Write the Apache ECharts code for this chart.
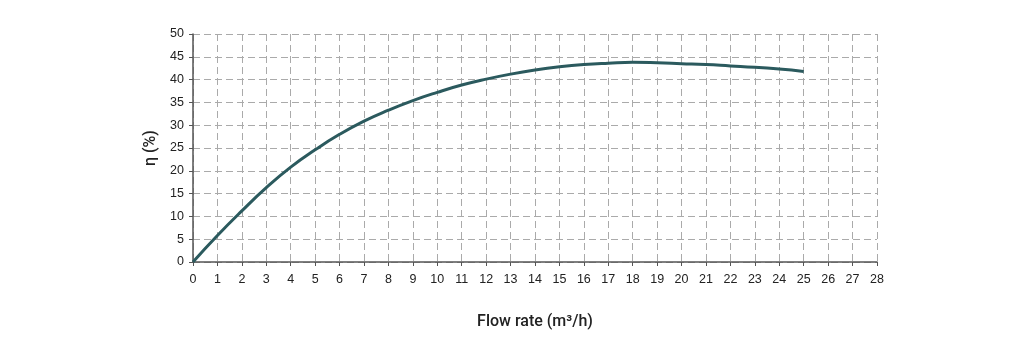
<!DOCTYPE html>
<html><head><meta charset="utf-8">
<script src="https://cdn.jsdelivr.net/npm/echarts@6/dist/echarts.min.js"></script>
<style>html,body{margin:0;padding:0;background:#fff}#c{width:1026px;height:358px}</style>
</head><body><div id="c"></div>
<script>
const flowRate = [0,1,2,3,4,5,6,7,8,9,10,11,12,13,14,15,16,17,18,19,20,21,22,23,24,25];
const efficiency = [0,5.8,11.2,16.3,20.8,24.6,28.0,30.9,33.3,35.4,37.2,38.8,40.1,41.2,42.1,42.8,43.3,43.6,43.8,43.7,43.5,43.3,43.0,42.7,42.3,41.8];
const xName = 'Flow rate (m³/h)';
const yName = 'η (%)';
const chart = echarts.init(document.getElementById('c'), null, {renderer:'canvas'});
const tickFont = {fontFamily:'Liberation Sans, Arial, sans-serif', fontSize:12.5, color:'#222'};
chart.setOption({
  animation:false,
  grid:{left:193,right:149,top:34,bottom:96},
  xAxis:{type:'value',min:0,max:28,interval:1,
    name:xName,nameLocation:'middle',nameGap:52,
    nameTextStyle:{fontFamily:'Roboto, sans-serif',fontSize:16,fontWeight:500,color:'#222'},
    axisLine:{show:true,lineStyle:{color:'#555',width:1.5}},
    axisTick:{show:true,length:4,lineStyle:{color:'#555'}},
    axisLabel:Object.assign({margin:11},tickFont),
    splitLine:{show:true,lineStyle:{color:'#aaa',type:[7,4],width:1}}},
  yAxis:{type:'value',min:0,max:50,interval:5,
    name:yName,nameLocation:'middle',nameGap:32,
    nameTextStyle:{fontFamily:'Roboto, sans-serif',fontSize:16,fontWeight:500,color:'#222'},
    axisLine:{show:true,lineStyle:{color:'#555',width:1.5}},
    axisTick:{show:true,length:4,lineStyle:{color:'#555'}},
    axisLabel:Object.assign({margin:9},tickFont),
    splitLine:{show:true,lineStyle:{color:'#aaa',type:[7,4],width:1}}},
  series:[{type:'line',data:flowRate.map((x,i)=>[x,efficiency[i]]),smooth:true,showSymbol:false,
    lineStyle:{color:'#2b5a5e',width:3}}]
});
</script></body></html>
